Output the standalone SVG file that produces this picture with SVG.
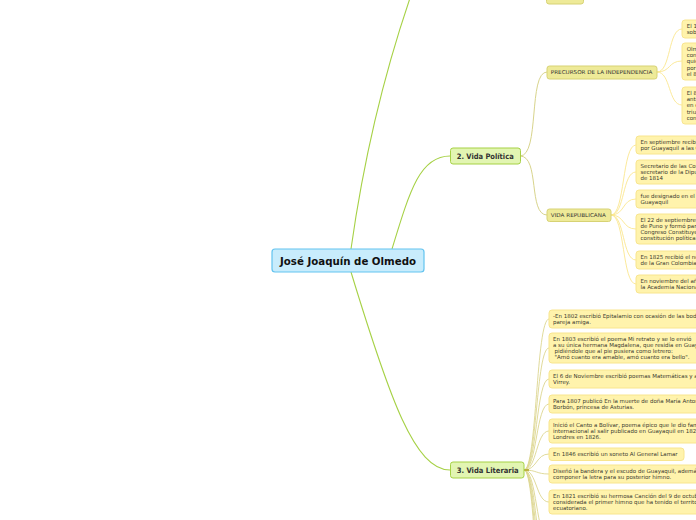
<svg xmlns="http://www.w3.org/2000/svg" width="696" height="520" viewBox="0 0 696 520">
<style>
text{font-family:"DejaVu Sans","Liberation Sans",sans-serif;fill:#333;}
.root rect{fill:#c8ecfc;stroke:#63c3ef;stroke-width:1.2;}
.root text{font-size:10px;font-weight:bold;fill:#111;}
.l1 rect{fill:#e2f5b2;stroke:#a6d145;stroke-width:1;}
.l1 text{font-size:7.5px;font-weight:bold;fill:#333;}
.l2 rect{fill:#eeea98;stroke:#d7d274;stroke-width:1;}
.l2 text{font-size:5.3px;fill:#333;}
.l3 rect{fill:#fff3ac;stroke:#f8e58e;stroke-width:1;}
.l3 text{font-size:5.5px;fill:#3a3a30;}
.c0{fill:none;stroke:#a6d145;stroke-width:1.1;}
.c1{fill:none;stroke:#d8d48c;stroke-width:1;}
.c2{fill:none;stroke:#fbe68f;stroke-width:0.9;}
.c3{fill:none;stroke:#ddd690;stroke-width:0.9;}
</style>
<rect width="696" height="520" fill="#fff"/>
<g id="connectors">
<path class="c0" d="M351 249 Q372 100 420 -30"/>
<path class="c0" d="M392 249 C410 190 420 156 450 156"/>
<path class="c0" d="M351 272 C390 400 415 470 450 470"/>
<path class="c1" d="M520 156 C540 156 528 72 547 72"/>
<path class="c1" d="M520 156 C540 156 528 215 547 215"/>
<path class="c2" d="M657 72 C671 72 668 29 682 29"/>
<path class="c2" d="M657 72 C671 72 668 61 682 61"/>
<path class="c2" d="M657 72 C671 72 668 105 682 105"/>
<path class="c2" d="M611 215 C625 215 622 145 636 145"/>
<path class="c2" d="M611 215 C625 215 622 172 636 172"/>
<path class="c2" d="M611 215 C625 215 622 199 636 199"/>
<path class="c2" d="M611 215 C625 215 622 229 636 229"/>
<path class="c2" d="M611 215 C625 215 622 260 636 260"/>
<path class="c2" d="M611 215 C625 215 622 284 636 284"/>
<path class="c3" d="M524 470 C537 470 536 319 549 319"/>
<path class="c3" d="M524 470 C537 470 536 348 549 348"/>
<path class="c3" d="M524 470 C537 470 536 379 549 379"/>
<path class="c3" d="M524 470 C537 470 536 404 549 404"/>
<path class="c3" d="M524 470 C537 470 536 431 549 431"/>
<path class="c3" d="M524 470 C537 470 536 454 549 454"/>
<path class="c3" d="M524 470 C537 470 536 474 549 474"/>
<path class="c3" d="M524 470 C537 470 536 502 549 502"/>
<path class="c3" d="M524 470 C537 470 536 540 549 540"/>
<path class="c3" d="M524 470 C537 470 536 570 549 570"/>
<path class="c3" d="M524 470 C537 470 536 600 549 600"/>
<path class="c3" d="M524 470 C537 470 536 635 549 635"/>
<path class="c3" d="M524 470 C537 470 536 670 549 670"/>
<rect x="524" y="469.2" width="5" height="1.6" fill="#b3aa2c"/>
</g>
<g id="root" class="root">
<rect x="272" y="249" width="152" height="23" rx="3"/>
<text x="280" y="264.5" textLength="136" lengthAdjust="spacingAndGlyphs">José Joaquín de Olmedo</text>
</g>
<g id="vida-politica" class="l1">
<rect x="450.5" y="148" width="70" height="16" rx="2.5"/>
<text x="456.7" y="158.8" textLength="57" lengthAdjust="spacingAndGlyphs">2. Vida Política</text>
</g>
<g id="vida-literaria" class="l1">
<rect x="450.5" y="462" width="73.5" height="16" rx="2.5"/>
<text x="456.7" y="472.8" textLength="62" lengthAdjust="spacingAndGlyphs">3. Vida Literaria</text>
</g>
<g id="top-node" class="l2">
<rect x="546.5" y="-12" width="37" height="16" rx="2.5"/>
</g>
<g id="precursor" class="l2">
<rect x="547" y="66" width="110" height="13" rx="2.5"/>
<text x="550.8" y="74.4" textLength="101.5" lengthAdjust="spacingAndGlyphs">PRECURSOR DE LA INDEPENDENCIA</text>
</g>
<g id="vida-republicana" class="l2">
<rect x="547" y="209" width="64" height="12.5" rx="2.5"/>
<text x="550.8" y="217.2" textLength="55" lengthAdjust="spacingAndGlyphs">VIDA REPUBLICANA</text>
</g>
<g id="pre1" class="l3">
<rect x="682" y="20" width="80" height="18" rx="3"/>
<text x="686.7" y="27.8">El 12 de agosto</text>
<text x="686.7" y="33.8">sobre la abolición</text>
</g>
<g id="pre2" class="l3">
<rect x="682" y="43" width="80" height="37" rx="3"/>
<text x="686.7" y="51">Olmedo</text>
<text x="686.7" y="57.2">con</text>
<text x="686.7" y="63.4">quien</text>
<text x="686.7" y="69.6">por</text>
<text x="686.7" y="75.8">el 8</text>
</g>
<g id="pre3" class="l3">
<rect x="682" y="87" width="80" height="37" rx="3"/>
<text x="686.7" y="95">El 8</text>
<text x="686.7" y="101.2">antes</text>
<text x="686.7" y="107.4">en el</text>
<text x="686.7" y="113.6">triunfo</text>
<text x="686.7" y="119.8">con</text>
</g>
<g id="rep1" class="l3">
<rect x="636" y="136" width="120" height="18" rx="3"/>
<text x="640.5" y="143.6">En septiembre recibió el</text>
<text x="640.5" y="149.6">por Guayaquil a las Cortes</text>
</g>
<g id="rep2" class="l3">
<rect x="636" y="160" width="120" height="24" rx="3"/>
<text x="640.5" y="167.6">Secretario de las Cortes</text>
<text x="640.5" y="173.6">secretario de la Diputación</text>
<text x="640.5" y="179.6">de 1814</text>
</g>
<g id="rep3" class="l3">
<rect x="636" y="190" width="120" height="18" rx="3"/>
<text x="640.5" y="197.6">fue designado en el año</text>
<text x="640.5" y="203.6">Guayaquil</text>
</g>
<g id="rep4" class="l3">
<rect x="636" y="214" width="120" height="30" rx="3"/>
<text x="640.5" y="221.6">El 22 de septiembre de</text>
<text x="640.5" y="227.6">de Puno y formó parte</text>
<text x="640.5" y="233.6">Congreso Constituyente</text>
<text x="640.5" y="239.6">constitución política del</text>
</g>
<g id="rep5" class="l3">
<rect x="636" y="251" width="120" height="18" rx="3"/>
<text x="640.5" y="258.6">En 1825 recibió el nombramiento</text>
<text x="640.5" y="264.6">de la Gran Colombia</text>
</g>
<g id="rep6" class="l3">
<rect x="636" y="275" width="120" height="18" rx="3"/>
<text x="640.5" y="282.6">En noviembre del año</text>
<text x="640.5" y="288.6">la Academia Nacional</text>
</g>
<g id="lit1" class="l3">
<rect x="549" y="310" width="200" height="18" rx="3"/>
<text x="553" y="317.6">-En 1802 escribió Epitalamio con ocasión de las bodas de una</text>
<text x="553" y="323.6">pareja amiga.</text>
</g>
<g id="lit2" class="l3">
<rect x="549" y="333" width="200" height="30" rx="3"/>
<text x="553" y="340.6">En 1803 escribió el poema Mi retrato y se lo envió</text>
<text x="553" y="346.6">a su única hermana Magdalena, que residía en Guayaquil,</text>
<text x="554.5" y="352.6">pidiéndole que al pie pusiera como letrero:</text>
<text x="554.5" y="358.6">"Amó cuanto era amable, amó cuanto era bello".</text>
</g>
<g id="lit3" class="l3">
<rect x="549" y="370" width="200" height="18" rx="3"/>
<text x="553" y="377.6">El 6 de Noviembre escribió poemas Matemáticas y al</text>
<text x="553" y="383.6">Virrey.</text>
</g>
<g id="lit4" class="l3">
<rect x="549" y="395" width="200" height="18" rx="3"/>
<text x="553" y="402.6">Para 1807 publicó En la muerte de doña María Antonia de</text>
<text x="553" y="408.6">Borbón, princesa de Asturias.</text>
</g>
<g id="lit5" class="l3">
<rect x="549" y="419" width="200" height="24" rx="3"/>
<text x="553" y="426.6">Inició el Canto a Bolívar, poema épico que le dio fama</text>
<text x="553" y="432.6">internacional al salir publicado en Guayaquil en 1825 y en</text>
<text x="553" y="438.6">Londres en 1826.</text>
</g>
<g id="lit6" class="l3">
<rect x="549" y="448" width="135" height="12.5" rx="3"/>
<text x="553" y="455.8">En 1846 escribió un soneto Al General Lamar</text>
</g>
<g id="lit7" class="l3">
<rect x="549" y="465" width="200" height="18" rx="3"/>
<text x="553" y="472.6">Diseñó la bandera y el escudo de Guayaquil, además de</text>
<text x="553" y="478.6">componer la letra para su posterior himno.</text>
</g>
<g id="lit8" class="l3">
<rect x="549" y="490" width="200" height="24" rx="3"/>
<text x="553" y="497.6">En 1821 escribió su hermosa Canción del 9 de octubre,</text>
<text x="553" y="503.6">considerada el primer himno que ha tenido el territorio</text>
<text x="553" y="509.6">ecuatoriano.</text>
</g>
</svg>
